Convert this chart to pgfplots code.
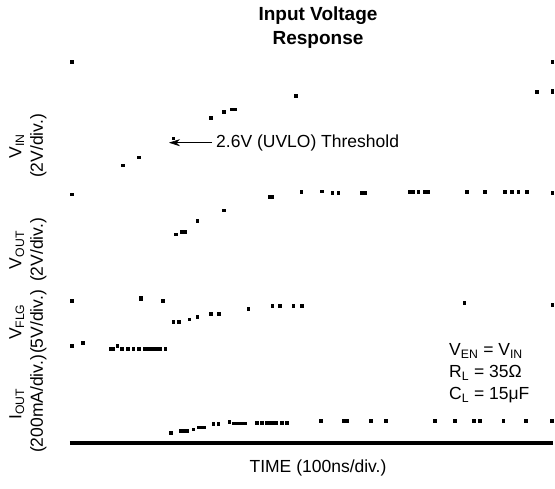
\documentclass[border=0pt]{standalone}
\usepackage{fontspec}
\setmainfont{Liberation Sans}
\usepackage{pgfplots}
\pgfplotsset{compat=1.18}
\usetikzlibrary{arrows.meta}
\begin{document}
\fontsize{17.5}{21.5}\selectfont
\begin{tikzpicture}[dot/.style={only marks, mark=square*, mark size=1.35pt, black,
     mark options={fill=black, draw=none}}]
\begin{axis}[
  at={(70pt,45pt)}, anchor=south west,
  scale only axis, width=483pt, height=384.5pt,
  xmin=70, xmax=553, ymin=0, ymax=384.5,
  axis x line=bottom, axis y line=none,
  x axis line style={-, line width=3.3pt},
  xtick=\empty, ytick=\empty,
  clip=false,
]
% V_IN
\addplot[dot] coordinates {(71.7,381.3) (122.7,277.7) (139,285.7) (173.3,304.7)
 (210.7,325.3) (224,331) (232,333.7) (235,333.7) (296,347)
 (536.7,351.3) (552.3,350.7) (552.3,352) (552.3,381.3)};
% V_OUT
\addplot[dot] coordinates {(71.7,248.7) (175.7,208.7) (182,211.3) (185,211.3)
 (197.3,222) (223.7,232.7) (269.5,246.3) (272,246.3) (301.3,251.3)
 (321.7,251.8) (332.3,250.5) (338.3,250.5) (362,250.5) (365,250.5)
 (410,251.3) (413,251.3) (418.3,251.3) (425,251.3) (428,251.3)
 (466.7,251.3) (485,251.3) (505,251.3) (511.7,251.3) (518.3,251.3) (526.7,251.3)
 (552.3,250)};
% V_FLG
\addplot[dot] coordinates {(71.7,142.3) (141,145.3) (141,143.8) (162.7,142.3)
 (173.3,121) (178.7,121) (189.3,123.7) (197.3,126.3) (210.7,129) (219,129)
 (248.3,134.3) (272.3,137) (280,137) (293.3,137) (301.7,137.5)
 (464.3,140.3) (552.3,138)
 (71.7,97.3) (82.7,100)
 (110.5,94.3) (113,94.3) (117.3,97.3) (121.7,94.3) (127.7,94.3) (133.3,94.3)
 (139,94.3) (145,94.3) (148,94.3) (151,94.3) (153.5,94.3) (157,94.3) (160,94.3)
 (165.3,94.3)};
% I_OUT
\addplot[dot] coordinates {(170.7,10.3) (180.5,12.3) (183.5,12.3) (186.5,12.3)
 (193.3,13.7) (198.3,15.7) (201,15.7) (203.5,15.7) (213.3,19) (218.3,19)
 (229.3,21) (233.3,19.7) (236.5,19.7) (239.5,19.7) (242.5,19.7) (245,19.7)
 (256.7,20.3) (261.7,20.3) (266.7,20.3) (269.5,20.3) (272.5,20.3) (275.5,20.3)
 (281.7,20.3) (286.7,20.3)
 (320.7,22) (343.5,22) (346.5,22) (370.7,22) (386,22) (435,22) (455,22)
 (474,22) (480,22) (503.3,22) (525.7,22) (551.7,22)};
% annotations
\draw[-{Stealth[length=11pt,width=7pt]}, line width=0.6pt]
  (axis cs:212,300.3) -- (axis cs:169,300.3);
\node[anchor=west, inner sep=0pt] at (axis cs:216,300.3) {2.6V (UVLO) Threshold};
\node[anchor=base west, inner sep=0pt] at (axis cs:449,87) {V\textsubscript{EN} = V\textsubscript{IN}};
\node[anchor=base west, inner sep=0pt] at (axis cs:449,65) {R\textsubscript{L} = 35Ω};
\node[anchor=base west, inner sep=0pt] at (axis cs:449,43) {C\textsubscript{L} = 15μF};
% title
\node[align=center, font=\fontsize{19}{24}\selectfont\bfseries, inner sep=0pt]
  at (axis cs:318,415) {Input Voltage\\Response};
% x label
\node[inner sep=0pt] at (axis cs:318,-25) {TIME (100ns/div.)};
% y labels
\node[rotate=90, align=center, inner sep=0pt] at (axis cs:28,297) {V\textsubscript{IN}\\(2V/div.)};
\node[rotate=90, align=center, inner sep=0pt] at (axis cs:28,193) {V\textsubscript{OUT}\\(2V/div.)};
\node[rotate=90, align=center, inner sep=0pt] at (axis cs:28,121) {V\textsubscript{FLG}\\(5V/div.)};
\node[rotate=90, align=center, inner sep=0pt] at (axis cs:28,39) {I\textsubscript{OUT}\\(200mA/div.)};
\path (axis cs:0,-45) rectangle (axis cs:555,443);
\end{axis}
\end{tikzpicture}
\end{document}
